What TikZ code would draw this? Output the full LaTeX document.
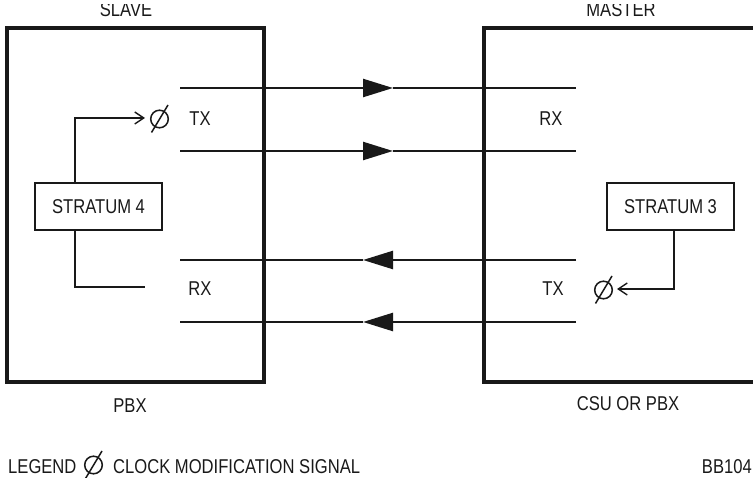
\documentclass[tikz,border=0pt]{standalone}
\usepackage{fontspec}
\setmainfont{Liberation Sans}[FakeStretch=0.83]
\usetikzlibrary{arrows.meta}
\begin{document}
\begin{tikzpicture}[x=1pt,y=-1pt,
  ink/.style={draw=black!90},
  lbl/.style={font=\fontsize{20}{24}\selectfont, inner sep=0pt, anchor=base, text=black!90},
  bigbox/.style={ink, line width=3.8pt, inner sep=0pt},
  strbox/.style={ink, line width=1.6pt, minimum width=127pt, minimum height=47pt, inner sep=0pt, font=\fontsize{20}{24}\selectfont, text=black!90},
  sig/.style={ink, line width=2.4pt},
  sigtip/.style={-{Triangle[length=30pt,width=18pt]}},
  clk/.style={ink, line width=1.4pt},
  clktip/.style={-{Straight Barb[length=9pt,width=12pt]}},
  phisym/.pic={\draw[ink,line width=1.5pt] (0,0) circle (8.8pt);
               \draw[ink,line width=1.5pt] (-8,13.5) -- (8.5,-14);}
]
\useasboundingbox (0,0) rectangle (753,478);
\clip (0,0) rectangle (753,478);

% boxes
\node[bigbox, minimum width=257pt, minimum height=354pt] (slave) at (135.5,205) {};
\node[bigbox, minimum width=286pt, minimum height=354pt] (master) at (627,205) {};

% top labels (cropped at top)
\begin{scope}
\clip (0,5) rectangle (753,478);
\node[lbl] (slavelbl) at (126,17) {SLAVE};
\node[lbl] (masterlbl) at (621,17) {MASTER};
\end{scope}

% signal lines
\coordinate (t1a) at (180,88);  \coordinate (t1m) at (393,88);  \coordinate (t1b) at (576,88);
\coordinate (t2a) at (180,151); \coordinate (t2m) at (393,151); \coordinate (t2b) at (576,151);
\coordinate (r1a) at (576,260); \coordinate (r1m) at (363,260); \coordinate (r1b) at (180,260);
\coordinate (r2a) at (576,322); \coordinate (r2m) at (363,322); \coordinate (r2b) at (180,322);
\draw[sig,sigtip] (t1a) -- (t1m); \draw[sig] (t1m) -- (t1b);
\draw[sig,sigtip] (t2a) -- (t2m); \draw[sig] (t2m) -- (t2b);
\draw[sig,sigtip] (r1a) -- (r1m); \draw[sig] (r1m) -- (r1b);
\draw[sig,sigtip] (r2a) -- (r2m); \draw[sig] (r2m) -- (r2b);

% stratum boxes
\node[strbox] (s4) at (98.5,206.5) {STRATUM 4};
\node[strbox] (s3) at (670.5,206.5) {STRATUM 3};

% clock connectors
\coordinate (ck1) at (145,118);
\coordinate (ck2) at (145,287);
\coordinate (ck3) at (617,289);
\draw[clk,clktip] ([xshift=-23.5pt]s4.north) |- (ck1);
\draw[clk] ([xshift=-23.5pt]s4.south) |- (ck2);
\draw[clk,clktip] ([xshift=3.5pt]s3.south) |- (ck3);

% clock modification symbols
\pic at (159.5,119) {phisym};
\pic at (603.5,290) {phisym};
\pic at (93.5,465) {phisym};

% labels
\node[lbl] (txl) at (200,126) {TX};
\node[lbl] (rxr) at (551,126) {RX};
\node[lbl] (rxl) at (200,296) {RX};
\node[lbl] (txr) at (553,296) {TX};
\node[lbl] (pbx) at (130,413) {PBX};
\node[lbl] (csu) at (628,410) {CSU OR PBX};
\node[lbl,anchor=base west] (leg) at (8,473) {LEGEND};
\node[lbl,anchor=base west] (cms) at (113,473) {CLOCK MODIFICATION SIGNAL};
\node[lbl,anchor=base east] (bb) at (752,473) {BB104};
\end{tikzpicture}
\end{document}
